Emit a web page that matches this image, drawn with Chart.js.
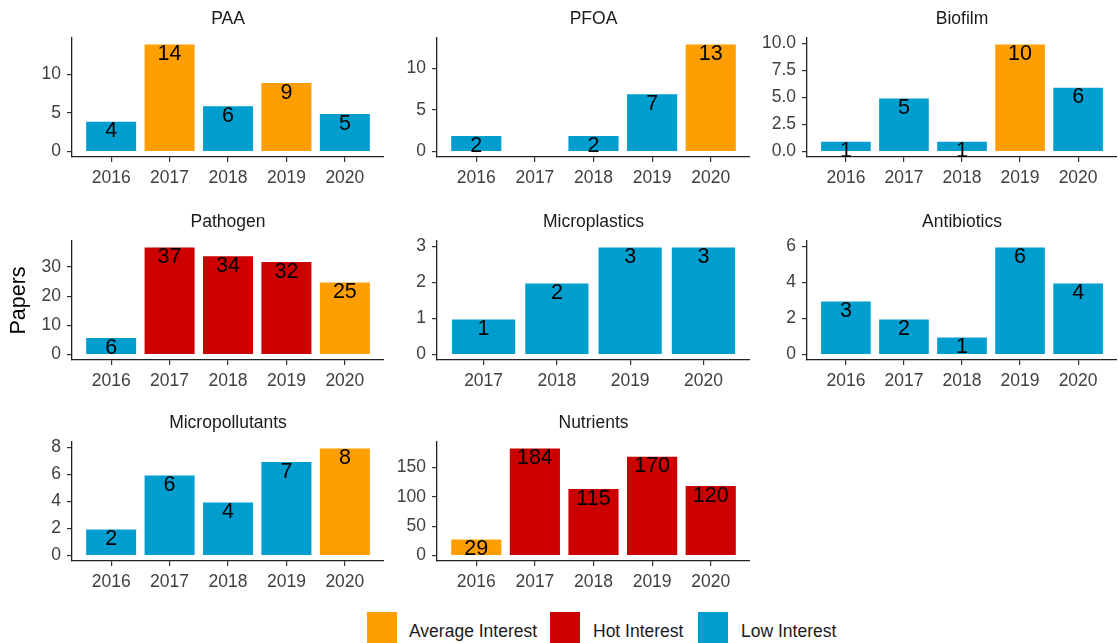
<!DOCTYPE html>
<html>
<head>
<meta charset="utf-8">
<script src="https://cdn.jsdelivr.net/npm/chart.js@4/dist/chart.umd.min.js"></script>
<style>
html,body{margin:0;padding:0;background:#fff;width:1118px;height:643px;overflow:hidden;position:relative;font-family:"Liberation Sans",Arial,sans-serif;}
canvas{position:absolute;}
.key{position:absolute;top:612px;width:30px;height:31px;}
.lab{position:absolute;top:621px;height:20px;line-height:20px;font-size:17.5px;color:#1a1a1a;white-space:nowrap;}
</style>
</head>
<body>
<script>
// ---------- data ----------
const years5 = ['2016','2017','2018','2019','2020'];
const years4 = ['2017','2018','2019','2020'];

const paaValues = [4, 14, 6, 9, 5];
const paaLevels = ['Low','Average','Low','Average','Low'];
const paaTicks = [0, 5, 10];

const pfoaValues = [2, null, 2, 7, 13];
const pfoaLevels = ['Low', null, 'Low', 'Low', 'Average'];
const pfoaTicks = [0, 5, 10];

const biofilmValues = [1, 5, 1, 10, 6];
const biofilmLevels = ['Low','Low','Low','Average','Low'];
const biofilmTicks = [0, 2.5, 5, 7.5, 10];

const pathogenValues = [6, 37, 34, 32, 25];
const pathogenLevels = ['Low','Hot','Hot','Hot','Average'];
const pathogenTicks = [0, 10, 20, 30];

const microplasticsValues = [1, 2, 3, 3];
const microplasticsLevels = ['Low','Low','Low','Low'];
const microplasticsTicks = [0, 1, 2, 3];

const antibioticsValues = [3, 2, 1, 6, 4];
const antibioticsLevels = ['Low','Low','Low','Low','Low'];
const antibioticsTicks = [0, 2, 4, 6];

const micropollutantsValues = [2, 6, 4, 7, 8];
const micropollutantsLevels = ['Low','Low','Low','Low','Average'];
const micropollutantsTicks = [0, 2, 4, 6, 8];

const nutrientsValues = [29, 184, 115, 170, 120];
const nutrientsLevels = ['Average','Hot','Hot','Hot','Hot'];
const nutrientsTicks = [0, 50, 100, 150];

const legendLabels = ['Average Interest', 'Hot Interest', 'Low Interest'];
const legendLevels = ['Average', 'Hot', 'Low'];
const yAxisTitle = 'Papers';

// ---------- styling ----------
const COLORS = {Average:'#FF9E00', Hot:'#CC0000', Low:'#009ECE'};
const FONT = '"Liberation Sans", Arial, sans-serif';
const TITLE_H = 34;   // 5 + 21 + 8
const XH = 40;
const COLS = [[72, 384], [437, 750], [807, 1117]];
const ROWS = [[38, 157], [241, 360], [442, 561]];

const panels = [
  {title:'PAA', cats:years5, values:paaValues, levels:paaLevels, yTicks:paaTicks, col:0, row:0},
  {title:'PFOA', cats:years5, values:pfoaValues, levels:pfoaLevels, yTicks:pfoaTicks, col:1, row:0},
  {title:'Biofilm', cats:years5, values:biofilmValues, levels:biofilmLevels, yTicks:biofilmTicks, col:2, row:0},
  {title:'Pathogen', cats:years5, values:pathogenValues, levels:pathogenLevels, yTicks:pathogenTicks, col:0, row:1, yTitle:yAxisTitle},
  {title:'Microplastics', cats:years4, values:microplasticsValues, levels:microplasticsLevels, yTicks:microplasticsTicks, col:1, row:1},
  {title:'Antibiotics', cats:years5, values:antibioticsValues, levels:antibioticsLevels, yTicks:antibioticsTicks, col:2, row:1},
  {title:'Micropollutants', cats:years5, values:micropollutantsValues, levels:micropollutantsLevels, yTicks:micropollutantsTicks, col:0, row:2},
  {title:'Nutrients', cats:years5, values:nutrientsValues, levels:nutrientsLevels, yTicks:nutrientsTicks, col:1, row:2}
];

const barLabels = {
  id:'barLabels',
  afterDatasetsDraw(chart){
    const ctx = chart.ctx;
    const meta = chart.getDatasetMeta(0);
    const ds = chart.data.datasets[0];
    ctx.save();
    ctx.font = '21.5px ' + FONT;
    ctx.fillStyle = '#000';
    ctx.textAlign = 'center';
    ctx.textBaseline = 'middle';
    meta.data.forEach((el, i) => {
      const v = ds.data[i].y;
      if (v == null || !isFinite(el.x) || !isFinite(el.y)) return;
      ctx.fillText(String(v), el.x, el.y + 10.8);
    });
    ctx.restore();
  }
};

function makePanel(p){
  const [x0, x1] = COLS[p.col];
  const [y0, y1] = ROWS[p.row];
  const YW = p.col === 0 ? 72 : 60;
  const c = document.createElement('canvas');
  const W = YW + (x1 - x0);
  const H = TITLE_H + (y1 - y0) + XH;
  c.width = W; c.height = H;
  c.style.width = W + 'px'; c.style.height = H + 'px';
  c.style.left = (x0 - YW) + 'px';
  c.style.top = (y0 - TITLE_H) + 'px';
  document.body.appendChild(c);

  const n = p.cats.length;
  const e = n === 5 ? 0.67 : 0.636;
  const maxV = Math.max(...p.values.filter(v => v != null));
  const decimals = p.yTicks.some(v => !Number.isInteger(v)) ? 1 : 0;

  const gridX = {display:true, offset:false, drawOnChartArea:false, drawTicks:true, tickLength:5, color:'#333', lineWidth:1.2};
  const gridY = {display:true, drawOnChartArea:false, drawTicks:true, tickLength:5, color:'#333', lineWidth:1.2};
  const borderOpts = {display:true, color:'#222', width:1.3};

  new Chart(c, {
    type:'bar',
    data:{
      datasets:[{
        data: p.values.map((v, i) => ({x:i, y:v})),
        backgroundColor: p.levels.map(l => l ? COLORS[l] : 'rgba(0,0,0,0)'),
        borderColor: 'rgba(255,255,255,0.45)',
        borderWidth: 1,
        categoryPercentage: 1,
        barPercentage: 0.89
      }]
    },
    options:{
      responsive:false,
      animation:false,
      devicePixelRatio:1,
      layout:{padding:0},
      plugins:{
        legend:{display:false},
        tooltip:{enabled:false},
        title:{display:true, text:p.title, fullSize:false, color:'#1a1a1a',
               font:{size:17.5, family:FONT, weight:'normal'}, padding:{top:5, bottom:8}}
      },
      scales:{
        x:{
          type:'linear', offset:false, min:-e, max:n - 1 + e,
          afterBuildTicks: s => { s.ticks = p.cats.map((_, i) => ({value:i})); },
          ticks:{callback: v => p.cats[v], color:'#404040', font:{size:17.5, family:FONT},
                 padding:6, autoSkip:false, maxRotation:0, minRotation:0},
          grid: gridX, border: borderOpts,
          afterFit: s => { s.height = XH; }
        },
        y:{
          type:'linear', min:-0.05 * maxV, max:1.05 * maxV,
          afterBuildTicks: s => { s.ticks = p.yTicks.map(v => ({value:v})); },
          ticks:{callback: v => Number(v).toFixed(decimals), color:'#404040',
                 font:{size:17.5, family:FONT}, padding:6, autoSkip:false},
          grid: gridY, border: borderOpts,
          title: p.yTitle ? {display:true, text:p.yTitle, color:'#000',
                 font:{size:21.5, family:FONT}, padding:{top:6, bottom:0}} : {display:false},
          afterFit: s => { s.width = YW; }
        }
      }
    },
    plugins:[barLabels]
  });
}

panels.forEach(makePanel);

// legend
const keyX = [367, 550, 698];
const labX = [409, 593, 741];
legendLabels.forEach((t, i) => {
  const k = document.createElement('div');
  k.className = 'key';
  k.style.left = keyX[i] + 'px';
  k.style.background = COLORS[legendLevels[i]];
  document.body.appendChild(k);
  const l = document.createElement('div');
  l.className = 'lab';
  l.style.left = labX[i] + 'px';
  l.textContent = t;
  document.body.appendChild(l);
});
</script>
</body>
</html>
